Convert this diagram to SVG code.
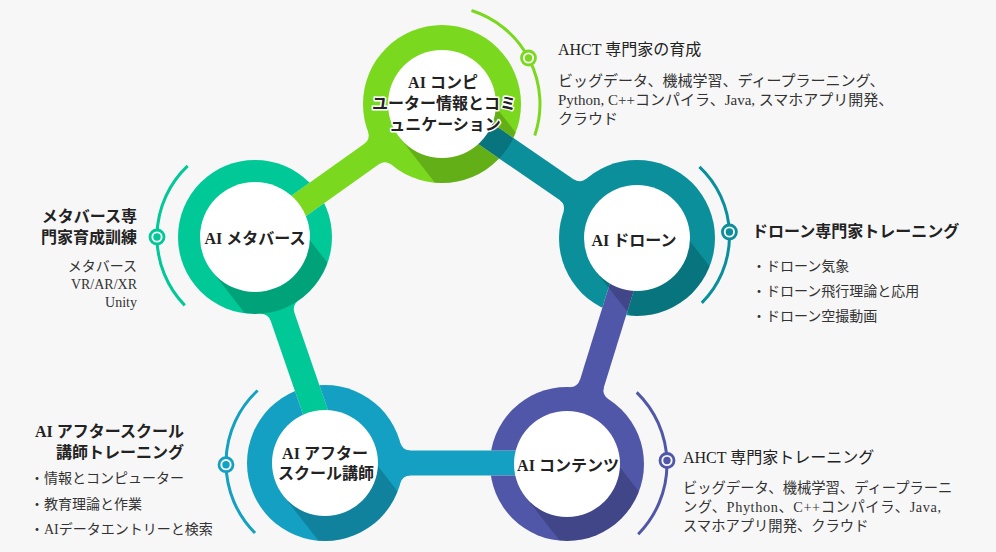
<svg xmlns="http://www.w3.org/2000/svg" xmlns:xlink="http://www.w3.org/1999/xlink" width="996" height="552" viewBox="0 0 996 552">
<style>
.shade{fill:#000;fill-opacity:.19}
.lbl{font-family:"Liberation Serif","Noto Sans CJK JP",serif;font-weight:bold;font-size:16px;fill:#222;text-anchor:middle;stroke:#fff;stroke-width:3px;stroke-linejoin:round;paint-order:stroke}
.ttl{font-family:"Liberation Serif","Noto Sans CJK JP",serif;font-weight:bold;font-size:16px;fill:#222}
.ttn{font-weight:normal}
.body{font-family:"Liberation Serif","Noto Sans CJK JP",serif;font-size:14px;fill:#333}
.arc{fill:none;stroke-width:3px}
.dot{fill:#f7f7f7;stroke-width:2.8px}
.cT{fill:#7ad81e}.cM{fill:#00c896}.cD{fill:#0a8f9b}.cC{fill:#5157a8}.cA{fill:#14a0c2}
</style>
<defs>
<path id="shT" d="M399.45,137.25 L473.91,79.06 L547.79,173.62 L473.33,231.81 Z"/>
<path id="shM" d="M211.66,270.86 L287.51,211.60 L361.39,306.16 L285.54,365.42 Z"/>
<path id="shD" d="M595.24,270.63 L668.32,213.53 L742.20,308.09 L669.12,365.19 Z"/>
<path id="shC" d="M525.24,496.63 L598.32,439.53 L672.20,534.09 L599.12,591.19 Z"/>
<path id="shA" d="M283.24,495.63 L356.32,438.53 L430.20,533.09 L357.12,590.19 Z"/>
<clipPath id="clipT"><circle cx="442" cy="104" r="79"/></clipPath>
<clipPath id="clipM"><circle cx="255" cy="237" r="77"/></clipPath>
<clipPath id="clipD"><circle cx="637" cy="238" r="78"/></clipPath>
<clipPath id="clipC"><circle cx="567" cy="464" r="77"/></clipPath>
<clipPath id="clipA"><circle cx="325" cy="463" r="78"/></clipPath>
<mask id="mT" maskUnits="userSpaceOnUse" x="0" y="0" width="996" height="552"><rect width="996" height="552" fill="#fff"/><use xlink:href="#b2" fill="#000"/></mask>
<mask id="mM" maskUnits="userSpaceOnUse" x="0" y="0" width="996" height="552"><rect width="996" height="552" fill="#fff"/><use xlink:href="#b1" fill="#000"/></mask>
<mask id="mD" maskUnits="userSpaceOnUse" x="0" y="0" width="996" height="552"><rect width="996" height="552" fill="#fff"/><use xlink:href="#b3" fill="#000"/></mask>
<mask id="mC" maskUnits="userSpaceOnUse" x="0" y="0" width="996" height="552"><rect width="996" height="552" fill="#fff"/><use xlink:href="#b4" fill="#000"/></mask>
<mask id="mA" maskUnits="userSpaceOnUse" x="0" y="0" width="996" height="552"><rect width="996" height="552" fill="#fff"/><use xlink:href="#b5" fill="#000"/></mask>
</defs>
<rect width="996" height="552" fill="#f7f7f7"/>

<g id="connectors">
<g id="conn-computer-metaverse" class="cT">
<path id="b1" d="M375.28,136.11 L247.76,226.81 L262.24,247.19 L389.76,156.49 Z"/>
<path d="M364.60,143.71 A10,10 0 0 0 368.15,132.02 L384.96,144.57 Z"/>
<path d="M379.08,164.09 A10,10 0 0 1 391.30,164.56 L384.96,144.57 Z"/>
</g>
<g id="conn-computer-drone" class="cD">
<path id="b2" d="M584.74,186.93 L449.08,93.70 L434.92,114.30 L570.58,207.53 Z"/>
<path d="M573.97,179.53 A10,10 0 0 0 586.15,178.87 L579.31,198.36 Z"/>
<path d="M559.81,200.13 A10,10 0 0 1 563.56,211.74 L579.31,198.36 Z"/>
</g>
<g id="conn-drone-contents" class="cC">
<path id="b3" d="M599.95,399.88 L648.94,241.70 L625.06,234.30 L576.07,392.48 Z"/>
<path d="M603.81,387.43 A10,10 0 0 0 608.03,398.85 L587.71,397.14 Z"/>
<path d="M579.93,380.03 A10,10 0 0 1 569.99,387.06 L587.71,397.14 Z"/>
</g>
<g id="conn-contents-afterschool" class="cA">
<path id="b4" d="M397,450.5 L567,450.5 L567,475.5 L397,475.5 Z"/>
<path d="M410.07,475.5 A10,10 0 0 0 400.40,482.94 L395,463 Z"/>
<path d="M410.07,450.5 A10,10 0 0 1 400.40,443.06 L395,463 Z"/>
</g>
<g id="conn-afterschool-metaverse" class="cM">
<path id="b5" d="M266.35,308.20 L321.18,467.08 L344.82,458.92 L289.99,300.04 Z"/>
<path d="M270.60,320.52 A10,10 0 0 0 260.44,313.81 L277.84,303.17 Z"/>
<path d="M294.24,312.36 A10,10 0 0 1 298.09,300.81 L277.84,303.17 Z"/>
</g>
</g>

<g id="node-ai-computer">
<circle cx="442" cy="104" r="79" class="cT" mask="url(#mT)"/>
<use xlink:href="#shT" clip-path="url(#clipT)" class="shade"/>
<circle cx="442" cy="104" r="54" fill="#fff"/>
<text class="lbl"><tspan x="443" y="88">AI コンピ</tspan><tspan x="444" y="109">ユーター情報とコミ</tspan><tspan x="445" y="130">ュニケーション</tspan></text>
<path class="arc" stroke="#7ad81e" d="M471.47,10.54 A98,98 0 0 1 534.76,135.58"/>
<circle class="dot" stroke="#7ad81e" cx="528.5" cy="58" r="7"/>
<circle class="cT" cx="528.5" cy="58" r="3.7"/>
<text class="ttl ttn" x="558" y="55">AHCT 専門家の育成</text>
<text class="body" style="font-size:15px"><tspan x="558" y="86">ビッグデータ、機械学習、ディープラーニング、</tspan><tspan x="558" y="105">Python, C++コンパイラ、Java, スマホアプリ開発、</tspan><tspan x="558" y="124">クラウド</tspan></text>
</g>

<g id="node-ai-metaverse">
<circle cx="255" cy="237" r="77" class="cM" mask="url(#mM)"/>
<use xlink:href="#shM" clip-path="url(#clipM)" class="shade"/>
<circle cx="255" cy="237" r="55" fill="#fff"/>
<text class="lbl" x="255" y="244">AI メタバース</text>
<path class="arc" stroke="#00c896" d="M187.66,165.79 A98,98 0 0 0 184.74,305.33"/>
<circle class="dot" stroke="#00c896" cx="157" cy="237" r="7"/>
<circle class="cM" cx="157" cy="237" r="3.7"/>
<text class="ttl" text-anchor="end"><tspan x="137" y="222">メタバース専</tspan><tspan x="137" y="243">門家育成訓練</tspan></text>
<text class="body" text-anchor="end"><tspan x="137" y="271">メタバース</tspan><tspan x="137" y="289">VR/AR/XR</tspan><tspan x="137" y="307">Unity</tspan></text>
</g>

<g id="node-ai-drone">
<circle cx="637" cy="238" r="78" class="cD" mask="url(#mD)"/>
<use xlink:href="#shD" clip-path="url(#clipD)" class="shade"/>
<circle cx="637" cy="238" r="53" fill="#fff"/>
<text class="lbl" x="634" y="246">AI ドローン</text>
<path class="arc" stroke="#0a8f9b" d="M699.45,166.89 A94.5,94.5 0 0 1 701.82,302.82"/>
<circle class="dot" stroke="#0a8f9b" cx="729.4" cy="232" r="7"/>
<circle class="cD" cx="729.4" cy="232" r="3.7"/>
<text class="ttl" x="752" y="237">ドローン専門家トレーニング</text>
<text class="body"><tspan x="752" y="271">・ドローン気象</tspan><tspan x="752" y="296">・ドローン飛行理論と応用</tspan><tspan x="752" y="321">・ドローン空撮動画</tspan></text>
</g>

<g id="node-ai-contents">
<circle cx="567" cy="464" r="77" class="cC" mask="url(#mC)"/>
<use xlink:href="#shC" clip-path="url(#clipC)" class="shade"/>
<circle cx="567" cy="464" r="53" fill="#fff"/>
<text class="lbl" x="568" y="471">AI コンテンツ</text>
<path class="arc" stroke="#5157a8" d="M636.72,392.31 A100,100 0 0 1 638.20,534.22"/>
<circle class="dot" stroke="#5157a8" cx="667" cy="460.5" r="7"/>
<circle class="cC" cx="667" cy="460.5" r="3.7"/>
<text class="ttl ttn" x="683" y="463">AHCT 専門家トレーニング</text>
<text class="body" style="font-size:14.3px"><tspan x="683" y="493">ビッグデータ、機械学習、ディープラーニ</tspan><tspan x="683" y="512" textLength="258" lengthAdjust="spacing">ング、Phython、C++コンパイラ、Java,</tspan><tspan x="683" y="531">スマホアプリ開発、クラウド</tspan></text>
</g>

<g id="node-ai-afterschool">
<circle cx="325" cy="463" r="78" class="cA" mask="url(#mA)"/>
<use xlink:href="#shA" clip-path="url(#clipA)" class="shade"/>
<circle cx="325" cy="463" r="53" fill="#fff"/>
<text class="lbl"><tspan x="325" y="459">AI アフター</tspan><tspan x="326" y="479">スクール講師</tspan></text>
<path class="arc" stroke="#14a0c2" d="M257.61,390.48 A99,99 0 0 0 255.0,533.0"/>
<circle class="dot" stroke="#14a0c2" cx="226" cy="464.7" r="7"/>
<circle class="cA" cx="226" cy="464.7" r="3.7"/>
<text class="ttl" text-anchor="end"><tspan x="184" y="437">AI アフタースクール</tspan><tspan x="184" y="458">講師トレーニング</tspan></text>
<text class="body"><tspan x="30" y="483">・情報とコンピューター</tspan><tspan x="30" y="508.5">・教育理論と作業</tspan><tspan x="30" y="534">・AIデータエントリーと検索</tspan></text>
</g>
</svg>
